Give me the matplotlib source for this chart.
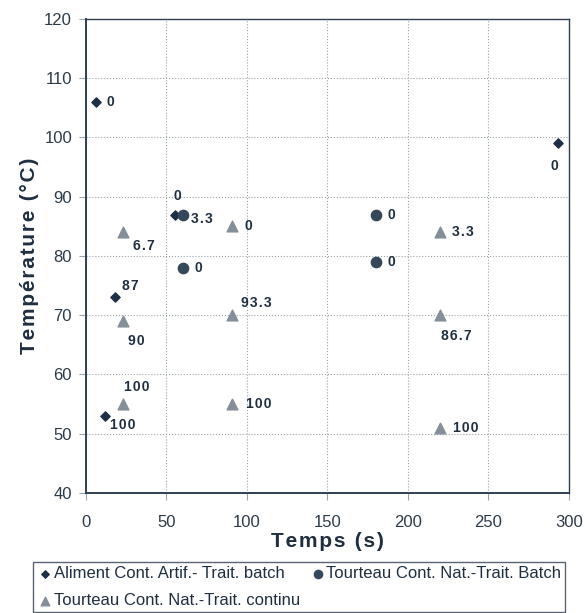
import matplotlib.pyplot as plt

plt.rcParams["font.family"] = ["Liberation Sans", "DejaVu Sans"]

# Data
# Aliment Cont. Artif. - Trait. batch (diamonds)
aliment_temps = [6, 55, 18, 12, 293]
aliment_temp = [106, 87, 73, 53, 99]
aliment_lab = ["0", "0", "87", "100", "0"]

# Tourteau Cont. Nat. - Trait. Batch (circles)
batch_temps = [60, 60, 180, 180]
batch_temp = [87, 78, 87, 79]
batch_lab = ["3.3", "0", "0", "0"]

# Tourteau Cont. Nat. - Trait. continu (triangles)
cont_temps = [23, 91, 23, 23, 91, 91, 220, 220, 220]
cont_temp = [84, 85, 69, 55, 70, 55, 84, 70, 51]
cont_lab = ["6.7", "0", "90", "100", "93.3", "100", "3.3", "86.7", "100"]

# label offsets in pixels (dx, dy), dy positive = up
aliment_off = [(15, 0), (3, 19), (15, 11), (17, -9), (-3, -23)]
batch_off = [(19, -4), (16, 0), (16, 0), (16, 0)]
cont_off = [(21, -14), (16, 0), (13, -20), (14, 17), (24, 12),
            (26, 0), (23, 0), (16, -21), (26, 0)]

c_diam = "#1d2f44"
c_circ = "#35475a"
c_tri = "#848f99"
c_text = "#1f2f40"
c_axis = "#2f3f50"
HAIR = "\u200a"


def spaced(s, gap=HAIR):
    # the original chart uses letter-spaced bold text
    return gap.join(s)


fig = plt.figure(figsize=(5.85, 6.13), dpi=100)
ax = fig.add_axes([0.147, 0.1958, 0.8256, 0.7732])

h1 = ax.scatter(aliment_temps, aliment_temp, marker="D", s=22, color=c_diam,
                zorder=3, label="Aliment Cont. Artif.- Trait. batch")
h2 = ax.scatter(batch_temps, batch_temp, marker="o", s=55, color=c_circ,
                zorder=3, label="Tourteau Cont. Nat.-Trait. Batch")
h3 = ax.scatter(cont_temps, cont_temp, marker="^", s=60, color=c_tri,
                zorder=3, label="Tourteau Cont. Nat.-Trait. continu")

for xs, ys, labs, offs in [(aliment_temps, aliment_temp, aliment_lab, aliment_off),
                           (batch_temps, batch_temp, batch_lab, batch_off),
                           (cont_temps, cont_temp, cont_lab, cont_off)]:
    for x, y, t, o in zip(xs, ys, labs, offs):
        ax.annotate(spaced(t), (x, y), xytext=o,
                    textcoords="offset pixels", ha="center", va="center",
                    fontsize=10, fontweight="bold", color=c_text)

ax.set_xlim(0, 300)
ax.set_ylim(40, 120)
ax.set_xticks(range(0, 301, 50))
ax.set_yticks(range(40, 121, 10))
ax.grid(True, linestyle=":", color="#9aa4ad", linewidth=0.8)
ax.set_axisbelow(True)

for s in ax.spines.values():
    s.set_color(c_axis)
    s.set_linewidth(1.0)
ax.spines["left"].set_linewidth(1.4)
ax.spines["bottom"].set_linewidth(1.4)

ax.tick_params(axis="both", colors="#9aa4ad", length=5, width=0.8,
               labelcolor="#2c3a48", labelsize=12)
ax.tick_params(axis="x", pad=11)
ax.tick_params(axis="y", pad=5)

ax.set_xlabel(spaced("Temps (s)"), fontsize=15, fontweight="bold",
              color=c_text, labelpad=1)
ax.set_ylabel(spaced("Température (°C)"), fontsize=15,
              fontweight="bold", color=c_text, labelpad=4)

leg = fig.legend(handles=[h1, h3, h2], ncol=2, loc="upper left",
                 bbox_to_anchor=(0.056, 0.083, 0.91, 0.0),
                 mode="expand", borderaxespad=0, fontsize=12,
                 frameon=True, fancybox=False, edgecolor=c_axis,
                 handletextpad=0.0, columnspacing=1.0, borderpad=0.25,
                 labelspacing=0.7, markerscale=0.8, handlelength=1.0)
leg.get_frame().set_linewidth(1.0)
for t in leg.get_texts():
    t.set_color(c_text)

fig.savefig("out.png", dpi=100)
